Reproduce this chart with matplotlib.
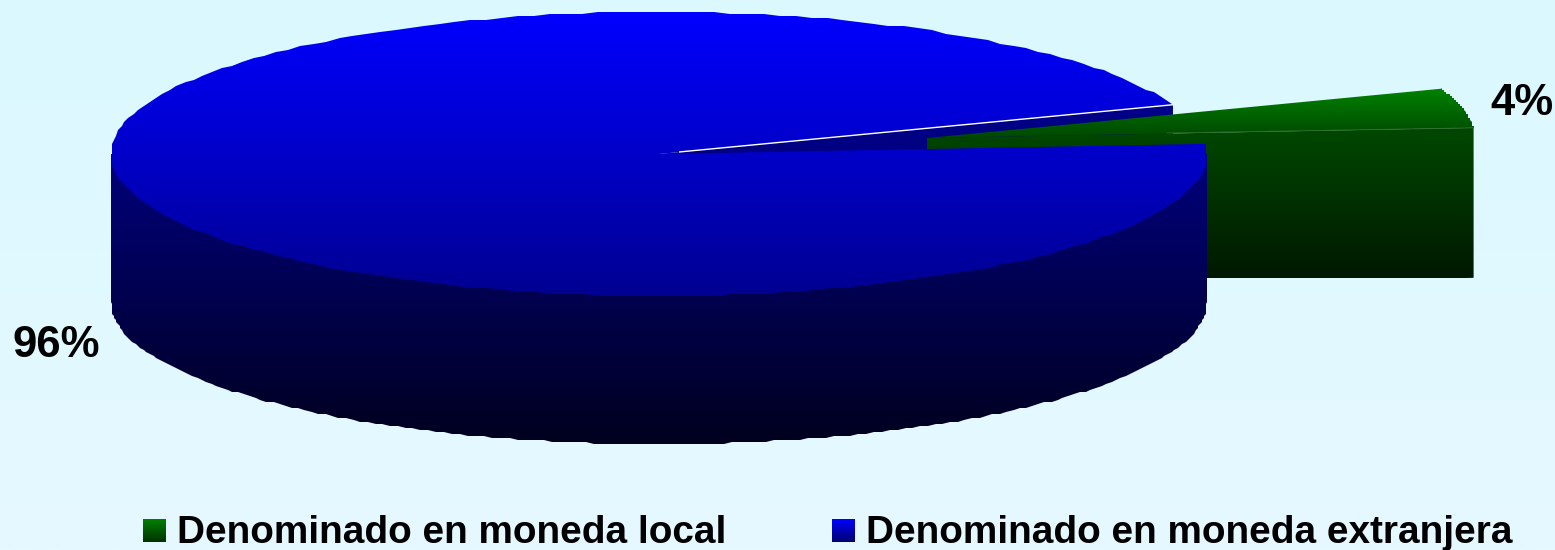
# 3D looking pie chart, drawn by hand because matplotlib has no real 3D pie
import numpy as np
import matplotlib
matplotlib.use("Agg")
import matplotlib.pyplot as plt
from matplotlib.colors import LinearSegmentedColormap
from matplotlib.patches import Polygon

# Data
categories = ["Denominado en moneda local", "Denominado en moneda extranjera"]
shares = [4.5, 95.5]  # labels are rounded
share_labels = ["4%", "96%"]

# Pie geometry, in pixels of the picture
CX, CY = 659, 154
RX, RY = 548, 142
DEPTH = 148
START_ANGLE = 20.3  # where the blue slice begins
EXPLODE = (268, -16)
STEP = 2  # the outline of the original is a bit stepped

plt.rcParams['font.family'] = ['Liberation Sans', 'DejaVu Sans']

fig = plt.figure(figsize=(15.55, 5.5), dpi=100)
ax = fig.add_axes([0, 0, 1, 1])


def rgb(r, g, b):
    return (r / 255, g / 255, b / 255)


def gradient(points, y0, y1, c0, c1):
    """Fill a polygon with a vertical gradient going from c0 at y0 to c1 at y1."""
    cmap = LinearSegmentedColormap.from_list("g", [c0, c1])
    pts = np.array(points)
    grad = np.linspace(0, 1, 256).reshape(-1, 1)
    im = ax.imshow(grad, cmap=cmap, aspect='auto', interpolation='bilinear',
                   extent=(pts[:, 0].min(), pts[:, 0].max(), y1, y0), vmin=0, vmax=1)
    im.set_clip_path(Polygon(pts, closed=True, transform=ax.transData))


def arc(t0, t1, dx=0, dy=0, n=200):
    t = np.radians(np.linspace(t0, t1, n))
    pts = np.column_stack((CX + RX * np.cos(t), CY - RY * np.sin(t)))
    # keep the exact end points, step the rest
    pts[1:-1] = np.round(pts[1:-1] / STEP) * STEP
    return pts + [dx, dy]


# Background
bg = LinearSegmentedColormap.from_list("bg", [rgb(219, 248, 255), rgb(230, 249, 255)])
ax.imshow(np.linspace(0, 1, 256).reshape(-1, 1), cmap=bg, aspect='auto', extent=(0, 1555, 550, 0))

# Slice angles come from the shares
local_span = 360 * shares[0] / sum(shares)
foreign_span = 360 * shares[1] / sum(shares)
blue_a0 = START_ANGLE
blue_a1 = START_ANGLE + foreign_span
green_a0 = START_ANGLE - local_span
green_a1 = START_ANGLE

# Cut face of the blue slice, mostly hidden
edge = arc(blue_a0, blue_a0, n=1)[0]
gradient([(CX, CY), edge, (edge[0], edge[1] + DEPTH), (CX, CY + DEPTH)],
         CY - 60, CY + DEPTH, rgb(0, 0, 140), rgb(0, 0, 100))

# Green slice pulled out to the right
gx, gy = CX + EXPLODE[0], CY + EXPLODE[1]
green_top = arc(green_a0, green_a1, *EXPLODE)
corner = green_top[0]
gradient([(gx, gy), corner, (corner[0], corner[1] + 150), (gx, gy + 150)],
         gy - 11, gy + 140, rgb(0, 72, 0), rgb(0, 24, 0))
gradient(np.vstack(([(gx, gy)], green_top)), 88, 138, rgb(0, 130, 0), rgb(0, 72, 0))
ax.plot([gx + 240, corner[0]], [gy - 5, corner[1]], color=rgb(50, 110, 50), lw=0.6)

# Blue slice: side first, top over it
front = arc(180, 360) + [0, DEPTH]
gradient(np.vstack(([(CX - RX, CY)], front, [(CX + RX, CY)])),
         CY, CY + RY + DEPTH, rgb(0, 0, 125), rgb(0, 0, 30))
blue_top = arc(blue_a0, blue_a1)
gradient(np.vstack(([(CX, CY)], blue_top)), CY - RY, CY + RY, rgb(0, 0, 255), rgb(0, 0, 145))
ax.plot([CX + 20, edge[0]], [CY - 2, edge[1]], color='white', lw=1.0, solid_capstyle='butt')

# Percent labels
ax.text(1490, 115, share_labels[0], fontsize=31.5, fontweight='bold', color='black', ha='left', va='baseline')
ax.text(13, 357, share_labels[1], fontsize=31.5, fontweight='bold', color='black', ha='left', va='baseline')

# Legend
swatch_x = [143, 832]
text_x = [177, 866]
swatch_colors = [(rgb(0, 128, 0), rgb(0, 50, 0)), (rgb(0, 0, 255), rgb(0, 0, 110))]
for sx, tx, name, (c0, c1) in zip(swatch_x, text_x, categories, swatch_colors):
    gradient([(sx, 519), (sx + 23, 519), (sx + 23, 542), (sx, 542)], 519, 542, c0, c1)
    ax.text(tx, 543, name, fontsize=27.9, fontweight='bold', color='black', ha='left', va='baseline')

ax.set_xlim(0, 1555)
ax.set_ylim(550, 0)
ax.axis('off')

fig.savefig("out.png", dpi=100)
